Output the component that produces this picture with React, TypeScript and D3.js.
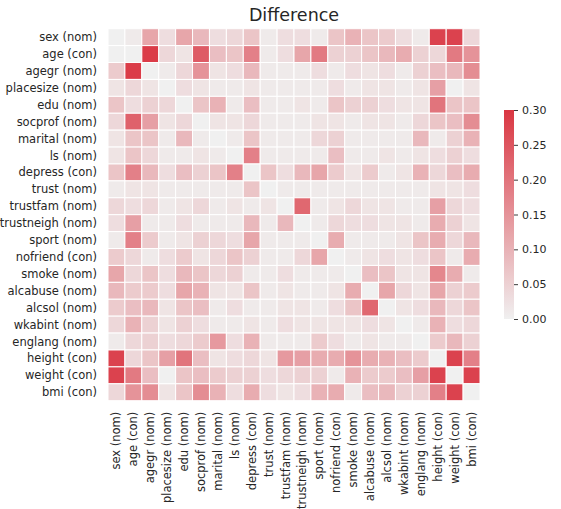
import React, { useRef, useEffect } from 'react';
import * as d3 from 'd3';

const VARS = [
  'sex (nom)', 'age (con)', 'agegr (nom)', 'placesize (nom)', 'edu (nom)', 'socprof (nom)',
  'marital (nom)', 'ls (nom)', 'depress (con)', 'trust (nom)', 'trustfam (nom)', 'trustneigh (nom)',
  'sport (nom)', 'nofriend (con)', 'smoke (nom)', 'alcabuse (nom)', 'alcsol (nom)', 'wkabint (nom)',
  'englang (nom)', 'height (con)', 'weight (con)', 'bmi (con)',
];

// one row per variable, columns in the same order as VARS
const ROW_SEX = [0, 0.01, 0.12, 0.03, 0.12, 0.09, 0.03, 0.04, 0.07, 0.01, 0.03, 0.03, 0.01, 0.07, 0.1, 0.07, 0.06, 0.03, 0.01, 0.28, 0.28, 0.04];
const ROW_AGE = [0, 0, 0.29, 0.04, 0.02, 0.24, 0.08, 0.07, 0.18, 0.01, 0.03, 0.12, 0.19, 0.05, 0.05, 0.07, 0.09, 0.11, 0.05, 0.04, 0.19, 0.15];
const ROW_AGEGR = [0.06, 0.29, 0, 0.01, 0.04, 0.15, 0.02, 0.03, 0.09, 0.01, 0.01, 0.01, 0.03, 0.01, 0.03, 0.02, 0.03, 0.01, 0.05, 0.08, 0.09, 0.16];
const ROW_PLACESIZE = [0.02, 0.04, 0.02, 0, 0.03, 0.02, 0.01, 0.01, 0.02, 0.01, 0.01, 0.01, 0.01, 0.03, 0.01, 0.02, 0.02, 0.01, 0.02, 0.13, 0, 0.02];
const ROW_EDU = [0.07, 0.03, 0.05, 0.04, 0, 0.07, 0.1, 0.01, 0.08, 0.01, 0.01, 0.02, 0.01, 0.07, 0.05, 0.05, 0.03, 0.02, 0.02, 0.2, 0.07, 0.07];
const ROW_SOCPROF = [0.04, 0.23, 0.13, 0.02, 0.04, 0, 0.02, 0.02, 0.04, 0.01, 0.01, 0.01, 0.02, 0.02, 0.01, 0.02, 0.02, 0.01, 0.04, 0.07, 0.08, 0.16];
const ROW_MARITAL = [0.02, 0.07, 0.07, 0.01, 0.09, 0.01, 0, 0.01, 0.07, 0.01, 0.01, 0.01, 0.04, 0.05, 0.01, 0.01, 0.01, 0.01, 0.09, 0.01, 0.05, 0.1];
const ROW_LS = [0.02, 0.07, 0.04, 0.01, 0.01, 0.02, 0.01, 0, 0.18, 0.01, 0.01, 0.01, 0.01, 0.08, 0.01, 0.01, 0.02, 0.01, 0.02, 0.03, 0.05, 0.03];
const ROW_DEPRESS = [0.07, 0.18, 0.09, 0.03, 0.08, 0.05, 0.07, 0.18, 0, 0.07, 0.03, 0.09, 0.12, 0.06, 0.02, 0.06, 0.01, 0.02, 0.1, 0.04, 0.08, 0.11];
const ROW_TRUST = [0.01, 0.02, 0.02, 0.01, 0.01, 0.01, 0.01, 0.01, 0.07, 0, 0.01, 0.01, 0.01, 0.01, 0.01, 0.01, 0.01, 0.01, 0.01, 0.02, 0.02, 0.03];
const ROW_TRUSTFAM = [0.04, 0.03, 0.04, 0.01, 0.02, 0.04, 0.01, 0.02, 0.01, 0.02, 0, 0.22, 0.01, 0.02, 0.04, 0.02, 0.02, 0.01, 0.01, 0.13, 0.04, 0.03];
const ROW_TRUSTNEIGH = [0.03, 0.13, 0.01, 0.01, 0.03, 0.01, 0.01, 0.01, 0.09, 0.01, 0.09, 0, 0.01, 0.04, 0.03, 0.03, 0.02, 0.02, 0.01, 0.11, 0.05, 0.02];
const ROW_SPORT = [0.01, 0.18, 0.06, 0.01, 0.02, 0.05, 0.04, 0.03, 0.12, 0.01, 0.01, 0.01, 0, 0.11, 0.01, 0.01, 0.01, 0.02, 0.07, 0.11, 0.04, 0.09];
const ROW_NOFRIEND = [0.06, 0.04, 0.01, 0.03, 0.06, 0.02, 0.04, 0.07, 0.05, 0.01, 0.01, 0.04, 0.12, 0, 0.01, 0.02, 0.03, 0.02, 0.03, 0.07, 0.01, 0.11];
const ROW_SMOKE = [0.12, 0.04, 0.07, 0.03, 0.09, 0.07, 0.04, 0.05, 0.01, 0.01, 0.03, 0.01, 0.01, 0.01, 0, 0.08, 0.07, 0.02, 0.02, 0.17, 0.11, 0.01];
const ROW_ALCABUSE = [0.09, 0.06, 0.06, 0.03, 0.12, 0.1, 0.02, 0.02, 0.07, 0.01, 0.02, 0.01, 0.01, 0.02, 0.11, 0, 0.12, 0.04, 0.02, 0.12, 0.05, 0.06];
const ROW_ALCSOL = [0.06, 0.08, 0.09, 0.02, 0.07, 0.08, 0.01, 0.03, 0.01, 0.01, 0.02, 0.02, 0.01, 0.03, 0.07, 0.22, 0, 0.02, 0.03, 0.09, 0.04, 0.07];
const ROW_WKABINT = [0.04, 0.1, 0.05, 0.02, 0.05, 0.03, 0.01, 0.01, 0.02, 0.01, 0.03, 0.02, 0.02, 0.02, 0.02, 0.03, 0.02, 0, 0.01, 0.1, 0.03, 0.04];
const ROW_ENGLANG = [0.01, 0.04, 0.05, 0.03, 0.04, 0.06, 0.14, 0.03, 0.1, 0.01, 0.01, 0.01, 0.06, 0.03, 0.01, 0.02, 0.01, 0.01, 0, 0.06, 0.09, 0.05];
const ROW_HEIGHT = [0.28, 0.04, 0.07, 0.13, 0.2, 0.08, 0.02, 0.03, 0.04, 0.02, 0.14, 0.13, 0.11, 0.11, 0.15, 0.11, 0.1, 0.08, 0.06, 0, 0.28, 0.18];
const ROW_WEIGHT = [0.28, 0.19, 0.08, 0, 0.07, 0.08, 0.06, 0.05, 0.05, 0.03, 0.04, 0.05, 0.05, 0.01, 0.1, 0.06, 0.06, 0.08, 0.13, 0.28, 0, 0.28];
const ROW_BMI = [0.04, 0.15, 0.16, 0.02, 0.07, 0.16, 0.1, 0.03, 0.11, 0.03, 0.02, 0.03, 0.1, 0.11, 0.01, 0.08, 0.09, 0.05, 0.05, 0.18, 0.28, 0];

const ROWS = [
  ROW_SEX, ROW_AGE, ROW_AGEGR, ROW_PLACESIZE, ROW_EDU, ROW_SOCPROF, ROW_MARITAL, ROW_LS,
  ROW_DEPRESS, ROW_TRUST, ROW_TRUSTFAM, ROW_TRUSTNEIGH, ROW_SPORT, ROW_NOFRIEND, ROW_SMOKE,
  ROW_ALCABUSE, ROW_ALCSOL, ROW_WKABINT, ROW_ENGLANG, ROW_HEIGHT, ROW_WEIGHT, ROW_BMI,
];

const CBAR_TICKS = [0, 0.05, 0.1, 0.15, 0.2, 0.25, 0.3];

const FONT = 'DejaVu Sans, sans-serif';
const TEXT = '#262626';

const App: React.FC = () => {
  const svgRef = useRef<SVGSVGElement | null>(null);

  useEffect(() => {
    if (!svgRef.current) return;
    const svg = d3.select(svgRef.current);
    svg.selectAll('*').remove();

    const left = 108, top = 28.7, size = 372;

    const x = d3.scaleBand().domain(VARS).range([left, left + size]);
    const y = d3.scaleBand().domain(VARS).range([top, top + size]);
    const color = d3.scaleLinear<string>()
      .domain([0, 0.3])
      .range(['#f0f0f0', '#da3642'])
      .interpolate(d3.interpolateRgb)
      .clamp(true);

    const cells = ROWS.flatMap((row, i) => row.map((v, j) => ({ r: VARS[i], c: VARS[j], v })));

    svg.append('g')
      .selectAll('rect')
      .data(cells)
      .enter().append('rect')
      .attr('x', d => x(d.c)!)
      .attr('y', d => y(d.r)!)
      .attr('width', x.bandwidth())
      .attr('height', y.bandwidth())
      .attr('fill', d => color(d.v))
      .attr('stroke', '#fff')
      .attr('stroke-width', 1);

    // row labels
    svg.append('g')
      .selectAll('text')
      .data(VARS)
      .enter().append('text')
      .attr('x', left - 11)
      .attr('y', d => y(d)! + y.bandwidth() / 2)
      .attr('text-anchor', 'end')
      .attr('dominant-baseline', 'central')
      .attr('font-family', FONT)
      .attr('font-size', 11.5)
      .attr('fill', TEXT)
      .text(d => d);

    // column labels, rotated
    svg.append('g')
      .selectAll('text')
      .data(VARS)
      .enter().append('text')
      .attr('transform', d => `translate(${x(d)! + x.bandwidth() / 2},${top + size + 11}) rotate(-90)`)
      .attr('text-anchor', 'end')
      .attr('dominant-baseline', 'central')
      .attr('font-family', FONT)
      .attr('font-size', 11.5)
      .attr('fill', TEXT)
      .text(d => d);

    svg.append('text')
      .attr('x', left + size / 2)
      .attr('y', 21)
      .attr('text-anchor', 'middle')
      .attr('font-family', FONT)
      .attr('font-size', 17.5)
      .attr('fill', TEXT)
      .text('Difference');

    // colorbar
    const cbX = 504, cbW = 10, cbTop = 110, cbBottom = 319;
    const cbScale = d3.scaleLinear().domain([0, 0.3]).range([cbBottom, cbTop]);
    const grad = svg.append('defs').append('linearGradient')
      .attr('id', 'cbgrad')
      .attr('x1', 0).attr('y1', 1).attr('x2', 0).attr('y2', 0);
    d3.range(0, 1.0001, 0.1).forEach(t => {
      grad.append('stop').attr('offset', t).attr('stop-color', color(t * 0.3));
    });
    svg.append('rect')
      .attr('x', cbX)
      .attr('y', cbTop)
      .attr('width', cbW)
      .attr('height', cbBottom - cbTop)
      .attr('fill', 'url(#cbgrad)');

    const axis = svg.append('g')
      .attr('transform', `translate(${cbX + cbW},0)`)
      .call(d3.axisRight(cbScale).tickValues(CBAR_TICKS).tickFormat(d3.format('.2f')).tickSize(4).tickPadding(4));
    axis.select('.domain').remove();
    axis.selectAll('line').attr('stroke', TEXT).attr('stroke-width', 0.9);
    axis.selectAll('text')
      .attr('font-family', FONT)
      .attr('font-size', 11)
      .attr('fill', TEXT);
  }, []);

  return (
    <svg
      ref={svgRef}
      width={561}
      height={509}
      style={{ position: 'absolute', left: 0, top: 0, background: '#fff' }}
    />
  );
};

export default App;
